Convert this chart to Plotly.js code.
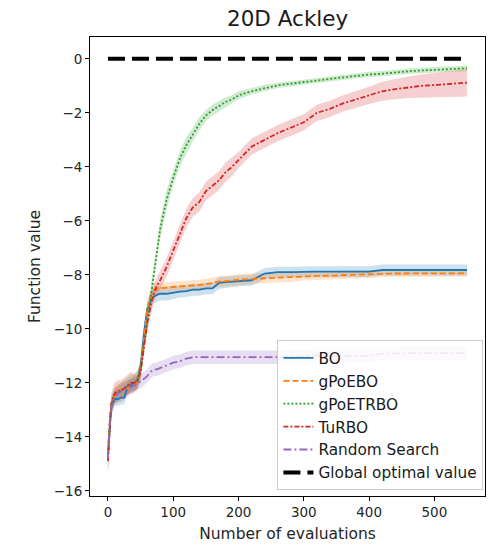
<!DOCTYPE html>
<html>
<head>
<meta charset="utf-8">
<script src="https://cdn.plot.ly/plotly-3.0.1.min.js"></script>
<style>html,body{margin:0;padding:0;background:#fff;}#chart{width:490px;height:546px;}</style>
</head>
<body>
<div id="chart"></div>
<script>
// ---- data ----
const evals = [0, 2, 5, 10, 15, 20, 25, 30, 35, 40, 45, 50, 55, 60, 65, 70, 75, 80, 90, 100, 110, 120, 130, 140, 150, 160, 170, 180, 190, 200, 220, 240, 260, 280, 300, 320, 340, 360, 380, 400, 420, 440, 460, 480, 500, 520, 540, 550];

const boMean = [-14.7, -13.8, -12.9, -12.6, -12.6, -12.55, -12.55, -12.15, -12.1, -12.0, -11.95, -11.4, -10.2, -9.3, -9.0, -8.8, -8.75, -8.7, -8.7, -8.65, -8.62, -8.6, -8.55, -8.55, -8.5, -8.5, -8.3, -8.27, -8.25, -8.22, -8.2, -7.95, -7.9, -7.9, -7.88, -7.88, -7.88, -7.88, -7.88, -7.88, -7.82, -7.82, -7.82, -7.82, -7.82, -7.82, -7.82, -7.82];
const boSpread = [0.5, 0.4, 0.3, 0.25, 0.25, 0.25, 0.25, 0.25, 0.25, 0.25, 0.25, 0.3, 0.35, 0.3, 0.3, 0.25, 0.25, 0.25, 0.25, 0.25, 0.22, 0.22, 0.22, 0.22, 0.22, 0.22, 0.22, 0.2, 0.2, 0.2, 0.2, 0.2, 0.2, 0.2, 0.2, 0.2, 0.2, 0.2, 0.2, 0.2, 0.2, 0.2, 0.2, 0.2, 0.2, 0.2, 0.2, 0.2];

const gpoeboMean = [-14.6, -13.6, -12.8, -12.4, -12.3, -12.25, -12.2, -12.2, -12.1, -12.05, -12.0, -11.5, -10.3, -9.3, -8.8, -8.55, -8.5, -8.5, -8.47, -8.45, -8.45, -8.43, -8.4, -8.38, -8.35, -8.3, -8.25, -8.23, -8.2, -8.18, -8.15, -8.12, -8.1, -8.08, -8.06, -8.04, -8.02, -8.0, -7.98, -7.97, -7.96, -7.95, -7.95, -7.94, -7.94, -7.94, -7.94, -7.94];
const gpoeboSpread = [0.5, 0.4, 0.3, 0.25, 0.25, 0.25, 0.25, 0.25, 0.25, 0.25, 0.25, 0.3, 0.35, 0.3, 0.25, 0.22, 0.2, 0.2, 0.2, 0.2, 0.2, 0.2, 0.2, 0.2, 0.2, 0.2, 0.2, 0.2, 0.2, 0.2, 0.2, 0.18, 0.18, 0.18, 0.15, 0.15, 0.15, 0.15, 0.15, 0.15, 0.12, 0.12, 0.12, 0.12, 0.12, 0.12, 0.12, 0.12];

const gpoetrboMean = [-14.8, -13.8, -12.9, -12.5, -12.4, -12.3, -12.2, -12.1, -12.0, -12.0, -11.9, -11.5, -10.6, -9.7, -8.9, -7.9, -7.0, -6.3, -5.2, -4.4, -3.7, -3.2, -2.8, -2.4, -2.1, -1.9, -1.75, -1.6, -1.5, -1.35, -1.2, -1.08, -0.98, -0.92, -0.87, -0.8, -0.74, -0.68, -0.62, -0.58, -0.55, -0.5, -0.46, -0.43, -0.4, -0.38, -0.36, -0.35];
const gpoetrboSpread = [0.5, 0.4, 0.3, 0.3, 0.3, 0.3, 0.3, 0.3, 0.3, 0.3, 0.3, 0.35, 0.35, 0.35, 0.35, 0.35, 0.35, 0.35, 0.35, 0.3, 0.3, 0.3, 0.25, 0.25, 0.2, 0.2, 0.2, 0.18, 0.15, 0.15, 0.12, 0.12, 0.1, 0.1, 0.1, 0.1, 0.1, 0.1, 0.1, 0.1, 0.1, 0.1, 0.1, 0.1, 0.1, 0.1, 0.1, 0.1];

const turboMean = [-14.9, -13.9, -12.8, -12.4, -12.3, -12.3, -12.2, -12.1, -12.0, -12.0, -11.9, -11.6, -10.6, -9.8, -9.2, -8.7, -8.4, -8.2, -7.7, -7.1, -6.5, -5.9, -5.5, -5.3, -4.9, -4.7, -4.5, -4.2, -4.0, -3.75, -3.25, -3.0, -2.75, -2.55, -2.35, -2.0, -1.85, -1.65, -1.5, -1.35, -1.2, -1.12, -1.05, -1.0, -0.97, -0.93, -0.9, -0.88];
const turboSpread = [0.5, 0.45, 0.4, 0.4, 0.4, 0.4, 0.4, 0.4, 0.4, 0.35, 0.35, 0.35, 0.35, 0.35, 0.35, 0.35, 0.35, 0.35, 0.35, 0.35, 0.35, 0.35, 0.35, 0.35, 0.35, 0.35, 0.35, 0.35, 0.35, 0.3, 0.3, 0.3, 0.3, 0.3, 0.3, 0.3, 0.3, 0.3, 0.3, 0.32, 0.35, 0.38, 0.4, 0.42, 0.45, 0.48, 0.5, 0.5];

const randomMean = [-14.8, -13.8, -12.9, -12.5, -12.4, -12.3, -12.25, -12.2, -12.15, -12.1, -12.0, -11.95, -11.85, -11.75, -11.6, -11.5, -11.5, -11.45, -11.35, -11.25, -11.2, -11.1, -11.05, -11.05, -11.05, -11.05, -11.05, -11.05, -11.05, -11.05, -11.05, -11.05, -11.05, -11.02, -11.0, -11.0, -11.0, -11.0, -11.0, -11.0, -10.92, -10.9, -10.9, -10.9, -10.9, -10.9, -10.9, -10.9];
const randomSpread = [0.5, 0.4, 0.3, 0.25, 0.25, 0.25, 0.25, 0.25, 0.25, 0.25, 0.25, 0.25, 0.25, 0.25, 0.25, 0.25, 0.25, 0.25, 0.25, 0.25, 0.25, 0.25, 0.25, 0.25, 0.25, 0.25, 0.25, 0.25, 0.25, 0.25, 0.25, 0.25, 0.25, 0.25, 0.25, 0.25, 0.25, 0.25, 0.25, 0.25, 0.25, 0.25, 0.25, 0.25, 0.25, 0.25, 0.25, 0.25];

const optimumX = [0, 550];
const optimumY = [0, 0];

const seriesNames = ["BO", "gPoEBO", "gPoETRBO", "TuRBO", "Random Search"];
const xTicks = [0, 100, 200, 300, 400, 500];
const yTicks = [0, -2, -4, -6, -8, -10, -12, -14, -16];

// ---- styles ----
const series = [
  {name: seriesNames[0], mean: boMean, spread: boSpread, color: "#1f77b4", fill: "rgba(31,119,180,0.22)", dash: "solid"},
  {name: seriesNames[1], mean: gpoeboMean, spread: gpoeboSpread, color: "#ff7f0e", fill: "rgba(255,127,14,0.22)", dash: "6px,3px"},
  {name: seriesNames[2], mean: gpoetrboMean, spread: gpoetrboSpread, color: "#2ca02c", fill: "rgba(44,160,44,0.22)", dash: "2px,2px"},
  {name: seriesNames[3], mean: turboMean, spread: turboSpread, color: "#d62728", fill: "rgba(214,39,40,0.22)", dash: "5px,2px,2px,2px"},
  {name: seriesNames[4], mean: randomMean, spread: randomSpread, color: "#9467bd", fill: "rgba(148,103,189,0.22)", dash: "8px,3px,2px,3px"}
];

const traces = [];
series.forEach(s => {
  const upper = s.mean.map((v, i) => v + s.spread[i]);
  const lower = s.mean.map((v, i) => v - s.spread[i]);
  traces.push({
    x: evals.concat(evals.slice().reverse()),
    y: upper.concat(lower.slice().reverse()),
    type: "scatter", mode: "lines", fill: "toself",
    fillcolor: s.fill, line: {width: 0, color: s.fill},
    showlegend: false, hoverinfo: "skip"
  });
});
series.forEach(s => {
  traces.push({
    x: evals, y: s.mean, name: s.name,
    type: "scatter", mode: "lines",
    line: {color: s.color, width: 1.8, dash: s.dash}
  });
});
traces.push({
  x: optimumX, y: optimumY, name: "Global optimal value",
  type: "scatter", mode: "lines",
  line: {color: "#000000", width: 4, dash: "17px,7px"}
});

const font = "DejaVu Sans, sans-serif";
const layout = {
  width: 490, height: 546,
  margin: {l: 90, r: 5, t: 37, b: 50},
  paper_bgcolor: "#ffffff", plot_bgcolor: "#ffffff",
  font: {family: font, color: "#262626", size: 13.5},
  title: {text: "20D Ackley", font: {family: font, size: 21.5, color: "#1a1a1a"}, x: 0.587, xanchor: "center", y: 0.966, yanchor: "middle", yref: "container"},
  xaxis: {
    range: [-27.5, 577.5], tickvals: xTicks, ticktext: xTicks.map(String),
    showgrid: false, zeroline: false, showline: true, mirror: true, linecolor: "#000", linewidth: 1,
    ticks: "outside", ticklen: 4, tickcolor: "#000",
    tickfont: {family: font, size: 13.5, color: "#262626"},
    title: {text: "Number of evaluations", font: {family: font, size: 15.5, color: "#262626"}, standoff: 8}
  },
  yaxis: {
    range: [-16.19, 0.81], tickvals: yTicks, ticktext: yTicks.map(v => v === 0 ? "0" : "\u2212" + Math.abs(v)),
    showgrid: false, zeroline: false, showline: true, mirror: true, linecolor: "#000", linewidth: 1,
    ticks: "outside", ticklen: 4, tickcolor: "#000",
    tickfont: {family: font, size: 13.5, color: "#262626"},
    title: {text: "Function value", font: {family: font, size: 15.5, color: "#262626"}, standoff: 9}
  },
  legend: {
    x: 0.996, xanchor: "right", y: 0.012, yanchor: "bottom",
    bgcolor: "rgba(255,255,255,0.85)", bordercolor: "#cccccc", borderwidth: 1,
    font: {family: font, size: 15.3, color: "#1a1a1a"},
    itemwidth: 30
  },
  showlegend: true
};

Plotly.newPlot("chart", traces, layout, {displayModeBar: false, staticPlot: true});
</script>
</body>
</html>
